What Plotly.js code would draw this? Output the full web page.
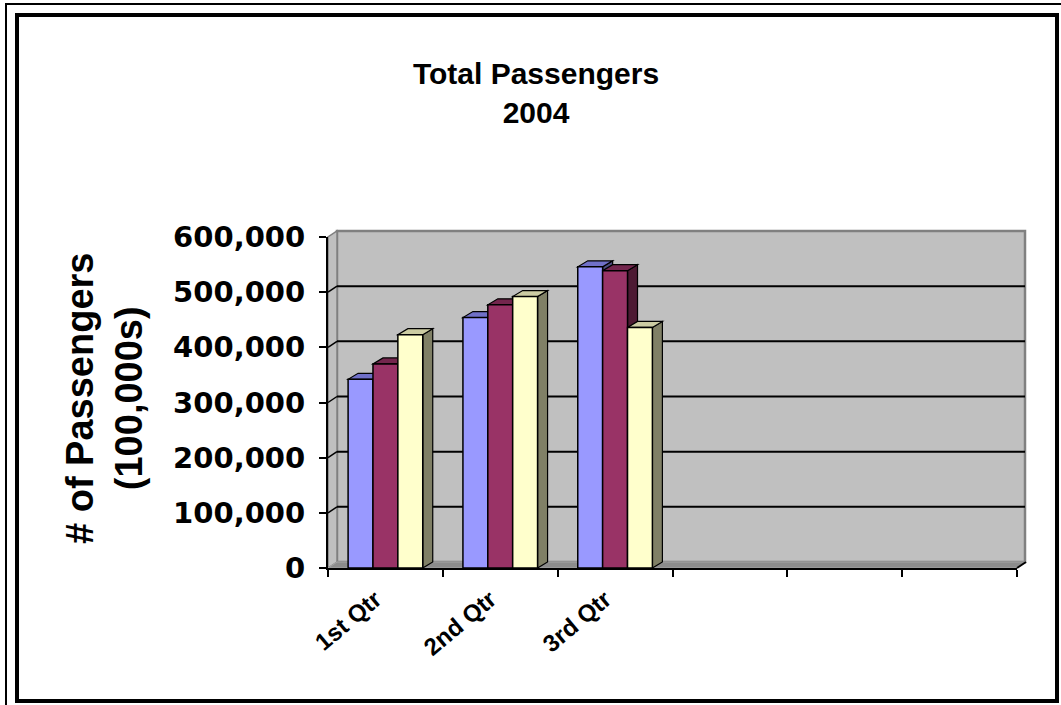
<!DOCTYPE html>
<html><head><meta charset="utf-8">
<script src="https://cdn.plot.ly/plotly-3.0.1.min.js"></script>
<style>html,body{margin:0;padding:0;background:#fff}#chart{width:1061px;height:705px}</style>
</head><body><div id="chart"></div>
<script>
// ---- data ----
const categories = ["1st Qtr", "2nd Qtr", "3rd Qtr"];
const slotCount = 6;
const seriesNames = ["East", "West", "North"];
const east = [342000, 454000, 546000];
const west = [370000, 477000, 539000];
const north = [423000, 492000, 436000];
const yTickValues = [0, 100000, 200000, 300000, 400000, 500000, 600000];
const yMax = 600000;

// ---- styling ----
const frontColors = ["#9999FF", "#993366", "#FFFFCC"];
const topColors = ["#7070C8", "#73264D", "#CCCCA3"];
const sideColors = ["#4D4D80", "#4D1A33", "#808066"];
const seriesValues = [east, west, north];

// plot area (front plane) in pixels
const PL = 328, PR = 1017, PT = 237, PB = 568, W = 1061, H = 705;
const PW = PR - PL, PH = PB - PT;
const px2x = p => (p - PL) / PW;
const py2y = p => (PB - p) / PH;
const WX = 9, WY = 6;      // back wall offset (px)
const BDX = 10, BDY = 6;   // bar depth (px)
const bargap = 0.35;

const xPos = categories.map((_, i) => i + 0.5);
const slotBounds = Array.from({length: slotCount + 1}, (_, i) => i);

const traces = seriesValues.map((vals, s) => ({
  type: "bar", name: seriesNames[s], x: xPos, y: vals,
  marker: {color: frontColors[s], line: {color: "#000", width: 1.5}},
  hoverinfo: "skip", showlegend: false
}));

const shapes = [];
// back wall
shapes.push({type: "rect", xref: "paper", yref: "paper", layer: "below",
  x0: px2x(PL + WX), x1: px2x(PR + WX - 1), y0: py2y(PB - WY), y1: py2y(PT - WY),
  fillcolor: "#C0C0C0", line: {color: "#808080", width: 2.5}});
// left wall
shapes.push({type: "path", xref: "paper", yref: "paper", layer: "below",
  path: `M ${px2x(PL)},${py2y(PB)} L ${px2x(PL)},${py2y(PT)} L ${px2x(PL+WX)},${py2y(PT-WY)} L ${px2x(PL+WX)},${py2y(PB-WY)} Z`,
  fillcolor: "#C0C0C0", line: {color: "#808080", width: 1.5}});
// gridlines on back wall + left wall connectors
yTickValues.forEach(v => {
  const fy = v / yMax;
  const by = (WY + v / yMax * PH) / PH;
  if (v > 0 && v < yMax) {
    shapes.push({type: "line", xref: "paper", yref: "paper", layer: "below",
      x0: px2x(PL + WX), x1: px2x(PR + WX - 1), y0: by, y1: by,
      line: {color: "#000", width: 2}});
    shapes.push({type: "line", xref: "paper", yref: "paper", layer: "below",
      x0: 0, x1: px2x(PL + WX), y0: fy, y1: by,
      line: {color: "#000", width: 1.5}});
  }
});
// floor
shapes.push({type: "path", xref: "paper", yref: "paper", layer: "below",
  path: `M ${px2x(PL)},${py2y(PB)} L ${px2x(PR)},${py2y(PB)} L ${px2x(PR+WX)},${py2y(PB-WY)} L ${px2x(PL+WX)},${py2y(PB-WY)} Z`,
  fillcolor: "#8C8C8C", line: {color: "#A6A6A6", width: 1}});
// right end of front axis
shapes.push({type: "line", xref: "paper", yref: "paper", layer: "above",
  x0: 1, y0: 0, x1: px2x(PR + WX), y1: py2y(PB - WY), line: {color: "#000", width: 2}});

// 3D top / side faces of bars computed from data
const barW = (1 - bargap) / seriesValues.length;
const dxu = BDX / (PW / slotCount);
const dyu = BDY * yMax / PH;
categories.forEach((_, c) => {
  seriesValues.forEach((vals, s) => {
    const v = vals[c];
    const ctr = xPos[c] + (s - (seriesValues.length - 1) / 2) * barW;
    const L = ctr - barW / 2, R = ctr + barW / 2;
    shapes.push({type: "path", xref: "x", yref: "y", layer: "below",
      path: `M ${R},0 L ${R},${v} L ${R+dxu},${v+dyu} L ${R+dxu},${dyu} Z`,
      fillcolor: sideColors[s], line: {color: "#000", width: 1.2}});
    shapes.push({type: "path", xref: "x", yref: "y", layer: "below",
      path: `M ${L},${v} L ${R},${v} L ${R+dxu},${v+dyu} L ${L+dxu},${v+dyu} Z`,
      fillcolor: topColors[s], line: {color: "#000", width: 1.2}});
  });
});

// chart frame
shapes.push({type: "rect", xref: "paper", yref: "paper", layer: "above",
  x0: px2x(17), x1: px2x(1057), y0: py2y(701), y1: py2y(15),
  line: {color: "#000", width: 4}});
shapes.push({type: "path", xref: "paper", yref: "paper", layer: "above",
  path: `M ${px2x(6)},${py2y(710)} L ${px2x(6)},${py2y(4)} L ${px2x(1070)},${py2y(4)}`,
  line: {color: "#000", width: 2}});

const layout = {
  width: W, height: H,
  margin: {l: PL, r: W - PR, t: PT, b: H - PB, pad: 0},
  paper_bgcolor: "#fff", plot_bgcolor: "rgba(0,0,0,0)",
  barmode: "group", bargap: bargap, bargroupgap: 0,
  showlegend: false,
  title: {text: "Total Passengers<br>2004", xref: "container", yref: "container",
    x: 536 / W, xanchor: "center", y: 1 - 84 / H, yanchor: "top",
    font: {family: "Liberation Sans", size: 30, weight: "bold", color: "#000"}},
  xaxis: {range: [0, slotCount], tickmode: "array", tickvals: xPos, ticktext: categories,
    ticks: "", tickangle: -40, showgrid: false, zeroline: false,
    showline: true, linecolor: "#000", linewidth: 2,
    ticklabelshift: -10, ticklabelstandoff: 6,
    tickfont: {family: "Liberation Sans", size: 24, weight: "bold", color: "#000"},
    minor: {tickmode: "array", tickvals: slotBounds, ticks: "outside", ticklen: 7,
      tickwidth: 2, tickcolor: "#000", showgrid: false},
    fixedrange: true},
  yaxis: {range: [0, yMax], tickmode: "array", tickvals: yTickValues, tickformat: ",",
    ticks: "outside", ticklen: 7, tickwidth: 2, tickcolor: "#000",
    showline: true, linecolor: "#000", linewidth: 2, showgrid: false, zeroline: false,
    ticklabelstandoff: 8,
    tickfont: {family: "DejaVu Sans", size: 29, weight: "bold", color: "#000"},
    fixedrange: true},
  annotations: [{text: "# of Passengers<br>(100,000s)", textangle: -90,
    xref: "paper", yref: "paper", x: px2x(104), y: py2y(399),
    xanchor: "center", yanchor: "middle", showarrow: false,
    font: {family: "Liberation Sans", size: 38, weight: "bold", color: "#000"}}],
  shapes: shapes
};

Plotly.newPlot("chart", traces, layout, {displayModeBar: false, staticPlot: true});
</script>
</body></html>
